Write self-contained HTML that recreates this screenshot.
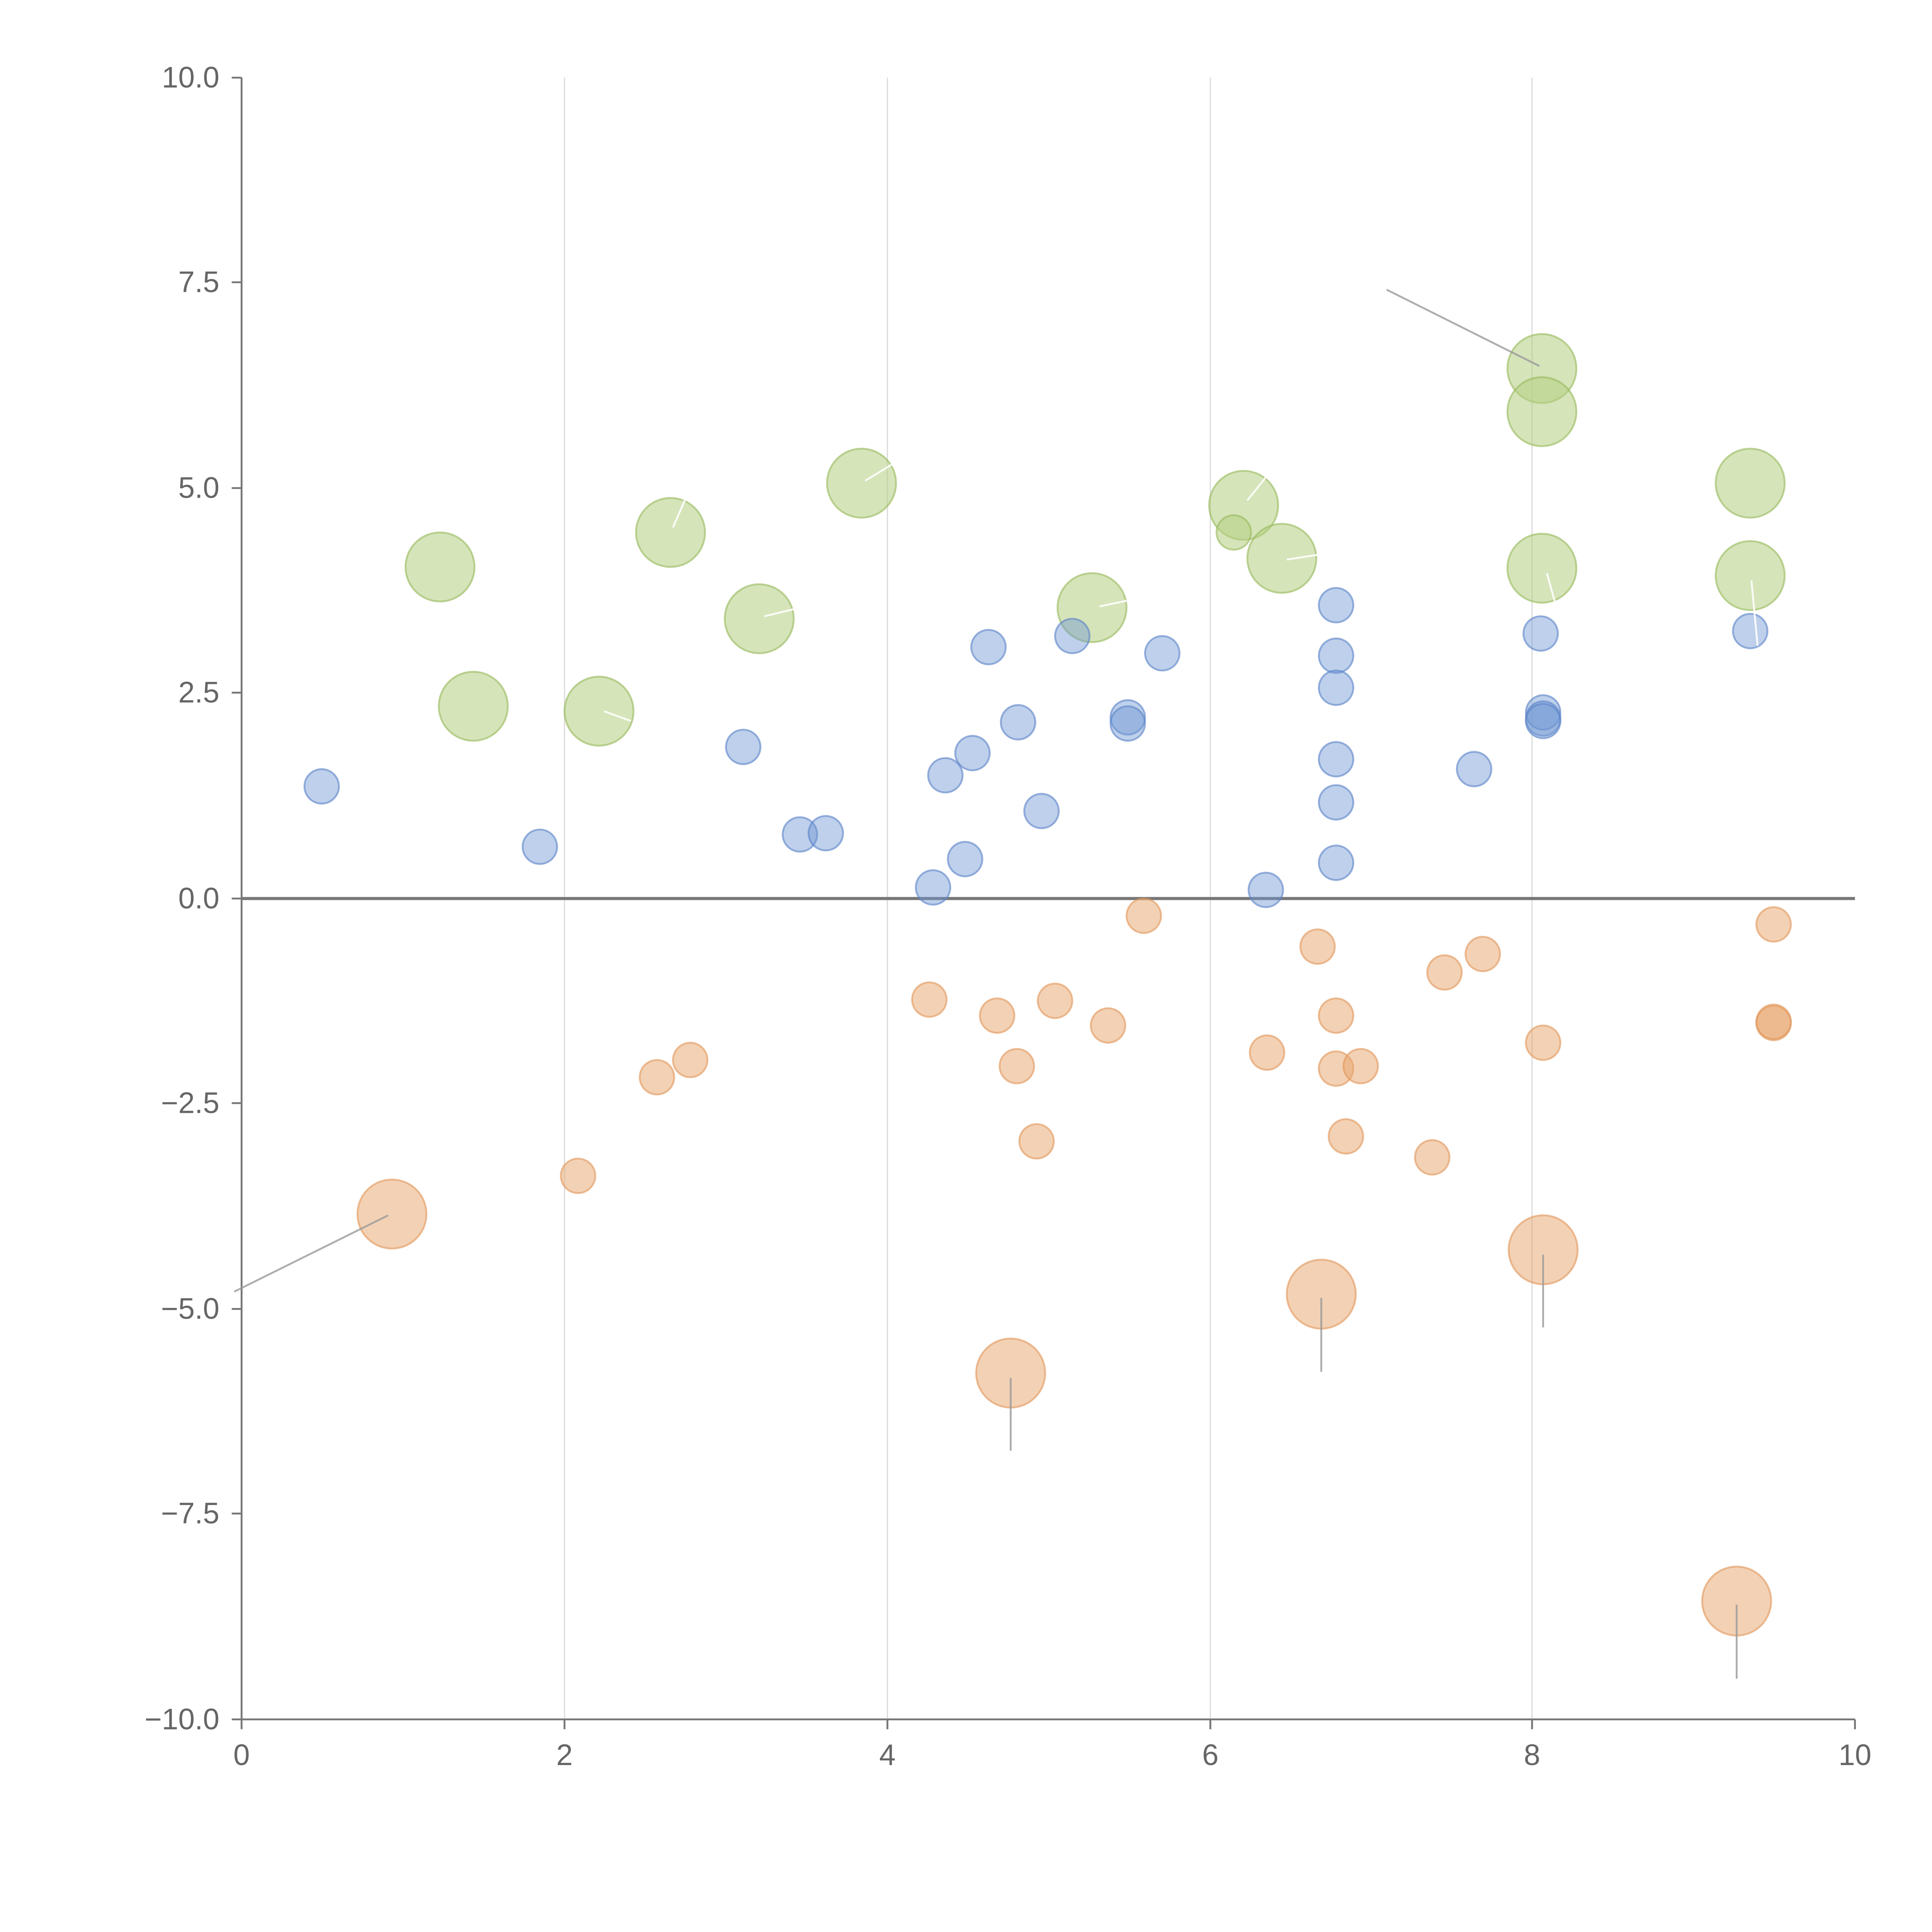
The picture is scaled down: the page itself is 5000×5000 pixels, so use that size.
<!DOCTYPE html>
<html><head><meta charset="utf-8"><style>html,body{margin:0;padding:0;background:#fff}svg{display:block}</style></head>
<body>
<svg width="5000" height="5000" viewBox="0 0 1567.5 1567.5" xmlns="http://www.w3.org/2000/svg" font-family="Liberation Sans, sans-serif">
<rect width="1567.5" height="1567.5" fill="#fff"/>
<g stroke="#dcdcdc" stroke-width="1">
<line x1="458" y1="63" x2="458" y2="1395"/><line x1="720" y1="63" x2="720" y2="1395"/>
<line x1="982" y1="63" x2="982" y2="1395"/><line x1="1243" y1="63" x2="1243" y2="1395"/>
</g>
<g stroke="#777" stroke-width="1.5" fill="none">
<line x1="196" y1="63" x2="196" y2="1395"/><line x1="196" y1="1395" x2="1505" y2="1395"/>
<line x1="188" y1="63" x2="196" y2="63"/><line x1="188" y1="229" x2="196" y2="229"/><line x1="188" y1="396" x2="196" y2="396"/><line x1="188" y1="562" x2="196" y2="562"/><line x1="188" y1="729" x2="196" y2="729"/><line x1="188" y1="895" x2="196" y2="895"/><line x1="188" y1="1062" x2="196" y2="1062"/><line x1="188" y1="1228" x2="196" y2="1228"/><line x1="188" y1="1395" x2="196" y2="1395"/>
<line x1="196" y1="1395" x2="196" y2="1403"/><line x1="458" y1="1395" x2="458" y2="1403"/><line x1="720" y1="1395" x2="720" y2="1403"/><line x1="982" y1="1395" x2="982" y2="1403"/><line x1="1243" y1="1395" x2="1243" y2="1403"/><line x1="1505" y1="1395" x2="1505" y2="1403"/>
</g>
<line x1="196" y1="729" x2="1505" y2="729" stroke="#777" stroke-width="2.5"/>
<g font-size="24" fill="#666" text-anchor="end">
<text x="178" y="71">10.0</text><text x="178" y="237">7.5</text><text x="178" y="404">5.0</text><text x="178" y="570">2.5</text><text x="178" y="737">0.0</text><text x="178" y="903">−2.5</text><text x="178" y="1070">−5.0</text><text x="178" y="1236">−7.5</text><text x="178" y="1403">−10.0</text>
</g>
<g font-size="24" fill="#666" text-anchor="middle">
<text x="196" y="1432">0</text><text x="458" y="1432">2</text><text x="720" y="1432">4</text><text x="982" y="1432">6</text><text x="1243" y="1432">8</text><text x="1505" y="1432">10</text>
</g>
<g fill="rgba(180,206,130,0.55)" stroke="rgba(150,185,90,0.6)" stroke-width="1.5">
<circle cx="357" cy="460" r="28"/><circle cx="384" cy="573" r="28"/><circle cx="486" cy="577" r="28"/><circle cx="544" cy="432" r="28"/><circle cx="616" cy="502" r="28"/><circle cx="699" cy="392" r="28"/><circle cx="886" cy="493" r="28"/><circle cx="1009" cy="410" r="28"/><circle cx="1001" cy="432" r="14"/><circle cx="1040" cy="453" r="28"/><circle cx="1251" cy="299" r="28"/><circle cx="1251" cy="334" r="28"/><circle cx="1251" cy="461" r="28"/><circle cx="1420" cy="392" r="28"/><circle cx="1420" cy="467" r="28"/>
</g>
<g fill="rgba(110,150,210,0.45)" stroke="rgba(90,130,200,0.6)" stroke-width="1.5">
<circle cx="261" cy="638" r="14"/><circle cx="438" cy="687" r="14"/><circle cx="603" cy="606" r="14"/><circle cx="649" cy="677" r="14"/><circle cx="670" cy="676" r="14"/><circle cx="757" cy="720" r="14"/><circle cx="767" cy="629" r="14"/><circle cx="783" cy="697" r="14"/><circle cx="789" cy="611" r="14"/><circle cx="802" cy="525" r="14"/><circle cx="826" cy="586" r="14"/><circle cx="845" cy="658" r="14"/><circle cx="870" cy="516" r="14"/><circle cx="915" cy="582" r="14"/><circle cx="915" cy="587" r="14"/><circle cx="943" cy="530" r="14"/><circle cx="1027" cy="722" r="14"/><circle cx="1084" cy="491" r="14"/><circle cx="1084" cy="532" r="14"/><circle cx="1084" cy="558" r="14"/><circle cx="1084" cy="616" r="14"/><circle cx="1084" cy="651" r="14"/><circle cx="1084" cy="700" r="14"/><circle cx="1196" cy="624" r="14"/><circle cx="1250" cy="514" r="14"/><circle cx="1252" cy="578" r="14"/><circle cx="1252" cy="583" r="14"/><circle cx="1252" cy="585" r="14"/><circle cx="1420" cy="512" r="14"/>
</g>
<g fill="rgba(232,164,106,0.5)" stroke="rgba(225,150,90,0.6)" stroke-width="1.5">
<circle cx="928" cy="743" r="14"/><circle cx="1069" cy="768" r="14"/><circle cx="1203" cy="774" r="14"/><circle cx="1172" cy="789" r="14"/><circle cx="1439" cy="750" r="14"/><circle cx="754" cy="811" r="14"/><circle cx="809" cy="824" r="14"/><circle cx="856" cy="812" r="14"/><circle cx="899" cy="832" r="14"/><circle cx="1084" cy="824" r="14"/><circle cx="1252" cy="846" r="14"/><circle cx="1439" cy="830" r="14"/><circle cx="1439" cy="829" r="14"/><circle cx="533" cy="874" r="14"/><circle cx="560" cy="860" r="14"/><circle cx="825" cy="865" r="14"/><circle cx="1028" cy="854" r="14"/><circle cx="1084" cy="867" r="14"/><circle cx="1104" cy="865" r="14"/><circle cx="1092" cy="922" r="14"/><circle cx="1162" cy="939" r="14"/><circle cx="841" cy="926" r="14"/><circle cx="469" cy="954" r="14"/>
<circle cx="318" cy="985" r="28"/><circle cx="820" cy="1114" r="28"/><circle cx="1072" cy="1050" r="28"/><circle cx="1252" cy="1014" r="28"/><circle cx="1409" cy="1299" r="28"/>
</g>
<g stroke="#999" stroke-width="1.5" opacity="0.8">
<line x1="1125" y1="235" x2="1249" y2="297"/><line x1="190" y1="1048" x2="315" y2="986"/>
<line x1="820" y1="1118" x2="820" y2="1177"/><line x1="1072" y1="1053" x2="1072" y2="1113"/><line x1="1252" y1="1018" x2="1252" y2="1077"/><line x1="1409" y1="1302" x2="1409" y2="1362"/>
</g>
<g stroke="#fff" stroke-width="1.5" opacity="0.9">
<line x1="546" y1="428" x2="556" y2="405"/><line x1="620" y1="500" x2="645" y2="494"/><line x1="702" y1="390" x2="725" y2="376"/><line x1="892" y1="492" x2="916" y2="487"/><line x1="1012" y1="406" x2="1028" y2="386"/><line x1="1044" y1="454" x2="1070" y2="450"/><line x1="1255" y1="465" x2="1262" y2="490"/><line x1="1421" y1="471" x2="1426" y2="524"/><line x1="490" y1="577" x2="512" y2="585"/>
</g>
</svg>
</body></html>
